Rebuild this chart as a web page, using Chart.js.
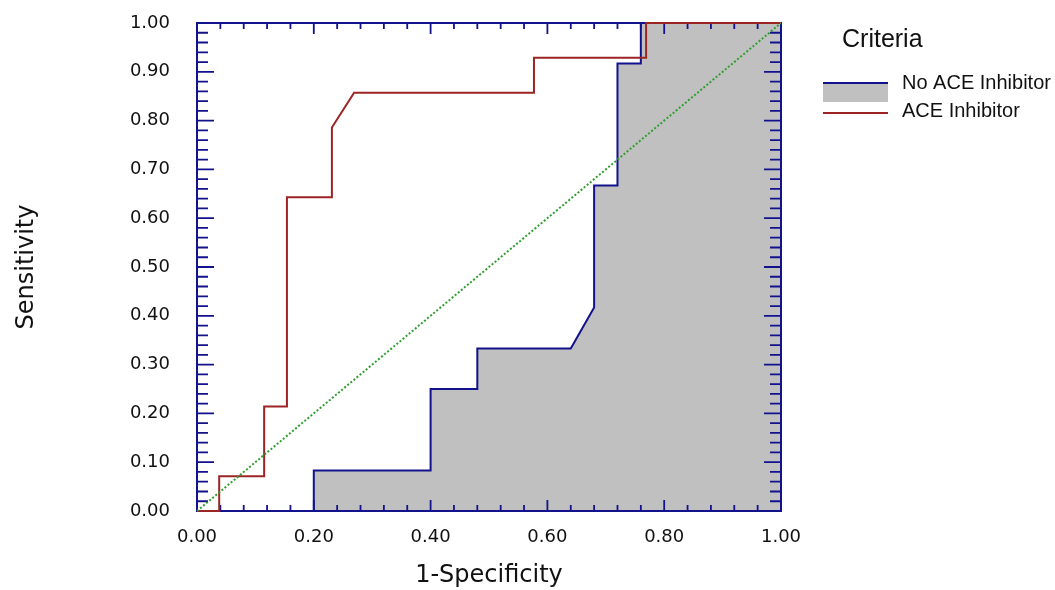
<!DOCTYPE html>
<html>
<head>
<meta charset="utf-8">
<script src="https://cdn.jsdelivr.net/npm/chart.js@4.4.1/dist/chart.umd.min.js"></script>
<style>
  html, body { margin: 0; padding: 0; background: #fff; }
  #wrap { width: 1055px; height: 590px; }
</style>
</head>
<body>
<div id="wrap"><canvas id="roc" width="1055" height="590"></canvas></div>
<script>
// ROC curves
const aceFpr = [0, 0.038, 0.038, 0.115, 0.115, 0.154, 0.154, 0.231, 0.231, 0.269, 0.577, 0.577, 0.769, 0.769, 1];
const aceTpr = [0, 0, 0.071, 0.071, 0.214, 0.214, 0.643, 0.643, 0.786, 0.857, 0.857, 0.929, 0.929, 1, 1];

const noAceFpr = [0, 0.2, 0.2, 0.4, 0.4, 0.48, 0.48, 0.64, 0.68, 0.68, 0.72, 0.72, 0.76, 0.76, 1];
const noAceTpr = [0, 0, 0.083, 0.083, 0.25, 0.25, 0.333, 0.333, 0.417, 0.667, 0.667, 0.917, 0.917, 1, 1];

const diagX = [0, 1];
const diagY = [0, 1];

const legendTitle = 'Criteria';
const seriesNames = ['No ACE Inhibitor', 'ACE Inhibitor'];

const NAVY = '#12128c';
const DARKRED = '#9c2424';
const GRAY = '#c0c0c0';
const GREEN = '#2f9e2f';

const toPoints = (xs, ys) => xs.map((x, i) => ({ x, y: ys[i] }));

// cadre bleu + graduations intérieures
const framePlugin = {
  id: 'frame',
  beforeDatasetsDraw(chart) {
    const { ctx, chartArea: a, scales: { x, y } } = chart;
    ctx.save();
    ctx.strokeStyle = NAVY;
    ctx.lineWidth = 1.8;
    ctx.beginPath();
    for (let i = 0; i <= 25; i++) {
      const px = x.getPixelForValue(i * 0.04);
      const len = i % 5 === 0 ? 11 : 6;
      ctx.moveTo(px, a.bottom); ctx.lineTo(px, a.bottom - len);
      ctx.moveTo(px, a.top); ctx.lineTo(px, a.top + len);
    }
    for (let i = 0; i <= 50; i++) {
      const py = y.getPixelForValue(i * 0.02);
      const len = i % 5 === 0 ? 17 : 11;
      ctx.moveTo(a.left, py); ctx.lineTo(a.left + len, py);
      ctx.moveTo(a.right, py); ctx.lineTo(a.right - len, py);
    }
    ctx.stroke();
    ctx.lineWidth = 2;
    ctx.strokeRect(a.left, a.top, a.right - a.left, a.bottom - a.top);
    ctx.restore();
  },
  afterDraw(chart) {
    const { ctx } = chart;
    ctx.save();
    ctx.fillStyle = '#111';
    ctx.textBaseline = 'alphabetic';
    ctx.font = '25px "Liberation Sans", Arial, sans-serif';
    ctx.fillText(legendTitle, 842, 47);

    ctx.fillStyle = GRAY;
    ctx.fillRect(823, 83, 65, 19);
    ctx.lineWidth = 2;
    ctx.strokeStyle = NAVY;
    ctx.beginPath(); ctx.moveTo(823, 83); ctx.lineTo(888, 83); ctx.stroke();
    ctx.strokeStyle = DARKRED;
    ctx.beginPath(); ctx.moveTo(823, 113); ctx.lineTo(888, 113); ctx.stroke();

    ctx.fillStyle = '#111';
    ctx.font = '20px "Liberation Sans", Arial, sans-serif';
    ctx.fillText(seriesNames[0], 902, 89);
    ctx.fillText(seriesNames[1], 902, 117);
    ctx.restore();
  },
};

const tickFont = { family: 'DejaVu Sans', size: 18 };
const titleFont = { family: 'DejaVu Sans', size: 24 };

new Chart(document.getElementById('roc'), {
  type: 'line',
  data: {
    datasets: [
      {
        label: 'diagonal',
        data: toPoints(diagX, diagY),
        borderColor: GREEN,
        borderWidth: 2,
        borderDash: [2, 2],
        pointRadius: 0,
        fill: false,
        clip: 3,
      },
      {
        label: seriesNames[1],
        data: toPoints(aceFpr, aceTpr),
        borderColor: DARKRED,
        borderWidth: 2,
        pointRadius: 0,
        fill: false,
        clip: 3,
      },
      {
        label: seriesNames[0],
        data: toPoints(noAceFpr, noAceTpr),
        borderColor: NAVY,
        backgroundColor: GRAY,
        borderWidth: 2,
        pointRadius: 0,
        fill: 'origin',
        clip: 3,
      },
    ],
  },
  options: {
    responsive: false,
    animation: false,
    events: [],
    layout: { padding: { top: 23, right: 274, left: 0, bottom: 0 } },
    elements: { line: { tension: 0 } },
    plugins: {
      legend: { display: false },
      tooltip: { enabled: false },
      filler: { drawTime: 'beforeDatasetsDraw' },
    },
    scales: {
      x: {
        type: 'linear',
        min: 0,
        max: 1,
        afterFit: (s) => { s.height = 79; s.paddingLeft = 0; s.paddingRight = 0; },
        grid: { display: false },
        border: { display: false },
        ticks: {
          stepSize: 0.2,
          padding: 8,
          color: '#111',
          font: tickFont,
          callback: (v) => v.toFixed(2),
        },
        title: { display: true, text: '1-Specificity', color: '#111', font: titleFont, padding: { top: 0, bottom: 0 } },
      },
      y: {
        min: 0,
        max: 1,
        afterFit: (s) => { s.width = 197; s.paddingTop = 0; s.paddingBottom = 0; },
        grid: { display: false },
        border: { display: false },
        ticks: {
          stepSize: 0.1,
          padding: 19,
          color: '#111',
          font: tickFont,
          callback: (v) => v.toFixed(2),
        },
        title: { display: true, text: 'Sensitivity', color: '#111', font: titleFont, padding: { top: 12, bottom: 0 } },
      },
    },
  },
  plugins: [framePlugin],
});
</script>
</body>
</html>
